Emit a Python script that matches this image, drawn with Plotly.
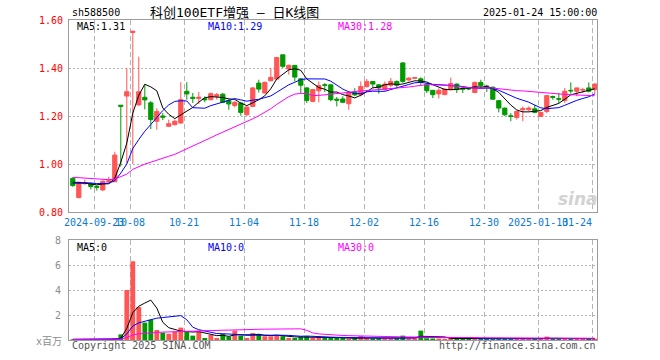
import plotly.graph_objects as go

# ---------------- data ----------------
dates = [
    "2024-09-13", "2024-09-18", "2024-09-19", "2024-09-20", "2024-09-23", "2024-09-24",
    "2024-09-25", "2024-09-26", "2024-09-27", "2024-09-30", "2024-10-08", "2024-10-09",
    "2024-10-10", "2024-10-11", "2024-10-14", "2024-10-15", "2024-10-16", "2024-10-17",
    "2024-10-18", "2024-10-21", "2024-10-22", "2024-10-23", "2024-10-24", "2024-10-25",
    "2024-10-28", "2024-10-29", "2024-10-30", "2024-10-31", "2024-11-01", "2024-11-04",
    "2024-11-05", "2024-11-06", "2024-11-07", "2024-11-08", "2024-11-11", "2024-11-12",
    "2024-11-13", "2024-11-14", "2024-11-15", "2024-11-18", "2024-11-19", "2024-11-20",
    "2024-11-21", "2024-11-22", "2024-11-25", "2024-11-26", "2024-11-27", "2024-11-28",
    "2024-11-29", "2024-12-02", "2024-12-03", "2024-12-04", "2024-12-05", "2024-12-06",
    "2024-12-09", "2024-12-10", "2024-12-11", "2024-12-12", "2024-12-13", "2024-12-16",
    "2024-12-17", "2024-12-18", "2024-12-19", "2024-12-20", "2024-12-23", "2024-12-24",
    "2024-12-25", "2024-12-26", "2024-12-27", "2024-12-30", "2024-12-31", "2025-01-02",
    "2025-01-03", "2025-01-06", "2025-01-07", "2025-01-08", "2025-01-09", "2025-01-10",
    "2025-01-13", "2025-01-14", "2025-01-15", "2025-01-16", "2025-01-17", "2025-01-20",
    "2025-01-21", "2025-01-22", "2025-01-23", "2025-01-24",
]

opens = [
    0.940, 0.860, 0.918, 0.919, 0.907, 0.892, 0.925, 0.926, 1.245, 1.283,
    1.548, 1.246, 1.278, 1.255, 1.178, 1.200, 1.157, 1.164, 1.171, 1.303,
    1.278, 1.273, 1.272, 1.268, 1.282, 1.291, 1.264, 1.244, 1.254, 1.205,
    1.240, 1.337, 1.296, 1.347, 1.354, 1.455, 1.396, 1.411, 1.355, 1.317,
    1.261, 1.305, 1.330, 1.330, 1.270, 1.271, 1.251, 1.300, 1.289, 1.323,
    1.344, 1.330, 1.310, 1.328, 1.344, 1.421, 1.350, 1.357, 1.355, 1.330,
    1.307, 1.292, 1.289, 1.310, 1.333, 1.316, 1.316, 1.298, 1.340, 1.325,
    1.320, 1.264, 1.233, 1.201, 1.194, 1.226, 1.226, 1.230, 1.198, 1.219,
    1.281, 1.272, 1.265, 1.307, 1.303, 1.308, 1.317, 1.310,
]
highs = [
    0.945, 0.926, 0.935, 0.922, 0.910, 0.932, 0.947, 1.051, 1.246, 1.399,
    1.556, 1.447, 1.329, 1.262, 1.232, 1.212, 1.185, 1.185, 1.341, 1.341,
    1.296, 1.300, 1.282, 1.298, 1.296, 1.296, 1.270, 1.262, 1.258, 1.240,
    1.320, 1.351, 1.344, 1.400, 1.444, 1.455, 1.414, 1.411, 1.358, 1.320,
    1.313, 1.344, 1.337, 1.331, 1.279, 1.282, 1.303, 1.316, 1.344, 1.354,
    1.345, 1.333, 1.344, 1.358, 1.348, 1.425, 1.361, 1.362, 1.361, 1.337,
    1.308, 1.316, 1.314, 1.360, 1.336, 1.322, 1.320, 1.343, 1.351, 1.330,
    1.322, 1.266, 1.235, 1.212, 1.222, 1.240, 1.240, 1.247, 1.217, 1.285,
    1.285, 1.296, 1.317, 1.340, 1.318, 1.317, 1.340, 1.337,
]
lows = [
    0.905, 0.857, 0.914, 0.894, 0.889, 0.887, 0.922, 0.925, 0.989, 1.003,
    1.000, 1.244, 1.228, 1.145, 1.143, 1.183, 1.154, 1.160, 1.167, 1.268,
    1.254, 1.250, 1.257, 1.265, 1.268, 1.254, 1.226, 1.236, 1.201, 1.201,
    1.237, 1.298, 1.293, 1.344, 1.351, 1.400, 1.372, 1.344, 1.296, 1.254,
    1.257, 1.257, 1.300, 1.261, 1.240, 1.254, 1.226, 1.283, 1.282, 1.318,
    1.317, 1.293, 1.305, 1.320, 1.318, 1.338, 1.344, 1.354, 1.330, 1.296,
    1.275, 1.273, 1.288, 1.308, 1.296, 1.296, 1.308, 1.295, 1.318, 1.300,
    1.268, 1.215, 1.201, 1.178, 1.185, 1.178, 1.219, 1.212, 1.196, 1.212,
    1.268, 1.254, 1.254, 1.293, 1.282, 1.296, 1.298, 1.293,
]
closes = [
    0.910, 0.924, 0.922, 0.906, 0.903, 0.928, 0.930, 1.037, 1.240, 1.301,
    1.553, 1.301, 1.267, 1.185, 1.219, 1.195, 1.168, 1.178, 1.268, 1.292,
    1.273, 1.278, 1.268, 1.293, 1.289, 1.257, 1.250, 1.257, 1.215, 1.237,
    1.317, 1.312, 1.340, 1.361, 1.444, 1.407, 1.411, 1.362, 1.328, 1.265,
    1.310, 1.327, 1.328, 1.268, 1.266, 1.257, 1.298, 1.288, 1.323, 1.344,
    1.333, 1.317, 1.333, 1.344, 1.328, 1.344, 1.358, 1.360, 1.340, 1.305,
    1.289, 1.307, 1.312, 1.335, 1.310, 1.312, 1.313, 1.340, 1.326, 1.322,
    1.270, 1.233, 1.205, 1.198, 1.219, 1.231, 1.233, 1.215, 1.215, 1.285,
    1.278, 1.270, 1.303, 1.305, 1.317, 1.310, 1.303, 1.333,
]
# volume, in millions
volumes = [
    0.05, 0.08, 0.03, 0.04, 0.03, 0.06, 0.05, 0.12, 0.45, 4.00,
    6.30, 2.64, 1.39, 1.63, 0.80, 0.59, 0.50, 0.67, 0.99, 0.67,
    0.35, 0.67, 0.16, 0.40, 0.16, 0.48, 0.27, 0.75, 0.35, 0.16,
    0.56, 0.48, 0.30, 0.30, 0.32, 0.30, 0.16, 0.16, 0.27, 0.30,
    0.20, 0.27, 0.16, 0.16, 0.16, 0.16, 0.10, 0.16, 0.32, 0.14,
    0.12, 0.14, 0.12, 0.12, 0.14, 0.35, 0.12, 0.14, 0.75, 0.14,
    0.12, 0.12, 0.10, 0.14, 0.12, 0.10, 0.10, 0.12, 0.12, 0.10,
    0.12, 0.14, 0.12, 0.12, 0.10, 0.12, 0.10, 0.10, 0.10, 0.27,
    0.12, 0.10, 0.12, 0.12, 0.10, 0.08, 0.10, 0.10,
]
# sessions before the visible window (implied by where the MA lines start)
prior_closes = [
    0.975, 0.972, 0.968, 0.970, 0.965, 0.962, 0.966, 0.960, 0.958, 0.955,
    0.957, 0.952, 0.950, 0.948, 0.946, 0.944, 0.940, 0.938, 0.935, 0.936,
    0.930, 0.928, 0.926, 0.929, 0.925, 0.922, 0.926, 0.924, 0.921,
]
prior_volumes = [
    0.06, 0.05, 0.07, 0.04, 0.05, 0.06, 0.05, 0.04, 0.06, 0.05,
    0.04, 0.05, 0.06, 0.05, 0.04, 0.05, 0.07, 0.05, 0.04, 0.05,
    0.06, 0.05, 0.04, 0.05, 0.06, 0.05, 0.04, 0.05, 0.05,
]

tick_dates = ["2024-09-23", "2024-10-08", "2024-10-21", "2024-11-04", "2024-11-18",
              "2024-12-02", "2024-12-16", "2024-12-30", "2025-01-13", "2025-01-24"]
tick_labels = ["2024-09-23", "10-08", "10-21", "11-04", "11-18",
               "12-02", "12-16", "12-30", "2025-01-13", "01-24"]
price_ticks = [0.80, 1.00, 1.20, 1.40, 1.60]
price_tick_labels = ["0.80", "1.00", "1.20", "1.40", "1.60"]
volume_ticks = [2, 4, 6, 8]
volume_tick_labels = ["2", "4", "6", "8"]

ma_price_text = ["MA5:1.31", "MA10:1.29", "MA30:1.28"]
ma_volume_text = ["MA5:0", "MA10:0", "MA30:0"]

# ---------------- helpers ----------------
def moving_average(prior, values, n):
    full = list(prior) + list(values)
    off = len(prior)
    out = []
    for i in range(len(values)):
        j = off + i
        w = full[max(0, j - n + 1): j + 1]
        out.append(sum(w) / len(w))
    return out

RED = "#ff5555"
GREEN = "#009a00"
MA_COLORS = ["#000000", "#0000ff", "#ff00ff"]
GRID = "#b4b4b4"
BORDER = "#9c9c9c"
MONO = "DejaVu Sans Mono, Noto Sans CJK SC, monospace"
TEXT_GRAY = "#555555"

xs = list(range(len(dates)))
pos = {d: i for i, d in enumerate(dates)}
grid_x = [pos[d] - 0.417 for d in tick_dates]

# plot-area in pixels: x 69..597, y 20..340
L, R, T, B = 69, 597, 20, 340
def px_x(px):
    return (px - L) / (R - L)
def px_y(py):
    return (B - py) / (B - T)

x_range = [-0.633, len(dates) - 0.633]

fig = go.Figure()

fig.add_trace(go.Candlestick(
    x=xs, open=opens, high=highs, low=lows, close=closes,
    increasing=dict(line=dict(color=RED, width=1), fillcolor=RED),
    decreasing=dict(line=dict(color=GREEN, width=1), fillcolor=GREEN),
    whiskerwidth=0, xaxis="x", yaxis="y", hoverinfo="skip",
))

for n, col in zip([5, 10, 30], MA_COLORS):
    fig.add_trace(go.Scatter(
        x=xs, y=moving_average(prior_closes, closes, n), mode="lines",
        line=dict(color=col, width=1), xaxis="x", yaxis="y", hoverinfo="skip",
    ))

vol_colors = [RED if c >= o else GREEN for o, c in zip(opens, closes)]
fig.add_trace(go.Bar(
    x=xs, y=volumes, width=0.8, marker=dict(color=vol_colors, line=dict(width=0)),
    xaxis="x2", yaxis="y2", hoverinfo="skip",
))
for n, col in zip([5, 10, 30], MA_COLORS):
    fig.add_trace(go.Scatter(
        x=xs, y=moving_average(prior_volumes, volumes, n), mode="lines",
        line=dict(color=col, width=1), xaxis="x2", yaxis="y2", hoverinfo="skip",
    ))

xaxis_common = dict(
    range=x_range, tickmode="array", tickvals=grid_x, showticklabels=False, ticks="",
    showgrid=True, gridcolor=GRID, gridwidth=1, griddash="5px,3px",
    showline=True, mirror=True, linecolor=BORDER, linewidth=1,
    zeroline=False, fixedrange=True,
)

fig.update_layout(
    width=660, height=360,
    margin=dict(l=L, r=660 - R, t=T, b=360 - B, pad=0),
    paper_bgcolor="white", plot_bgcolor="white",
    showlegend=False, hovermode=False,
    boxgap=0.3, boxgroupgap=0,
    xaxis=dict(domain=[0, 1], anchor="y", rangeslider=dict(visible=False), **xaxis_common),
    xaxis2=dict(domain=[0, 1], anchor="y2", **xaxis_common),
    yaxis=dict(
        domain=[px_y(212), 1], anchor="x", range=[0.80, 1.60],
        tickmode="array", tickvals=price_ticks, ticktext=price_tick_labels,
        tickfont=dict(family=MONO, size=10, color="#ff0000"), ticks="",
        ticklabelstandoff=3,
        showgrid=True, gridcolor=GRID, gridwidth=1, griddash="2px,2px",
        showline=True, mirror=True, linecolor=BORDER, linewidth=1,
        zeroline=False, fixedrange=True,
    ),
    yaxis2=dict(
        domain=[0, px_y(240)], anchor="x2", range=[0, 8],
        tickmode="array", tickvals=volume_ticks, ticktext=volume_tick_labels,
        tickfont=dict(family=MONO, size=10, color="#8c8c8c"), ticks="",
        ticklabelstandoff=5,
        showgrid=True, gridcolor=GRID, gridwidth=1, griddash="2px,2px",
        showline=True, mirror=True, linecolor=BORDER, linewidth=1,
        zeroline=False, fixedrange=True,
    ),
    font=dict(family=MONO, size=10, color="#000000"),
)

ann = []
def text(x, y, s, color="#000000", size=10, xanchor="left", xref="paper", **kw):
    ann.append(dict(x=x, y=y, xref=xref, yref="paper", text=s, showarrow=False,
                    xanchor=xanchor, yanchor="middle",
                    font=dict(family=MONO, size=size, color=color, **kw)))

# header
text(px_x(69.5), px_y(12.5), "sh588500")
text(px_x(234), px_y(12.5), "科创100ETF增强 — 日K线图", size=13, xanchor="center")
text(px_x(598.5), px_y(12.5), "2025-01-24 15:00:00", xanchor="right")

# MA legends
for s, col, xp in zip(ma_price_text, MA_COLORS, [74.5, 205.5, 336]):
    text(px_x(xp), px_y(27), s, color=col)
for s, col, xp in zip(ma_volume_text, MA_COLORS, [74.5, 205.5, 336]):
    text(px_x(xp), px_y(247), s, color=col)

# date labels
DATE_BLUE = "#0a7ad0"
for gx, lab in zip(grid_x[:-1], tick_labels[:-1]):
    text(gx, px_y(222), lab, color=DATE_BLUE, xanchor="center", xref="x")
text(px_x(594), px_y(222), tick_labels[-1], color=DATE_BLUE, xanchor="right")

# footer
text(px_x(64), px_y(341), "x百万", color="#8c8c8c", xanchor="right")
text(px_x(70), px_y(345.5), "Copyright 2025 SINA.COM", color=TEXT_GRAY)
text(px_x(597.5), px_y(345.5), "http://finance.sina.com.cn", color=TEXT_GRAY, xanchor="right")

# watermark
ann.append(dict(x=px_x(578), y=px_y(199), xref="paper", yref="paper", text="sina",
                showarrow=False, xanchor="center", yanchor="middle",
                font=dict(family="DejaVu Sans", size=17, color="#d2d2d2",
                          weight="bold", style="italic")))

fig.update_layout(annotations=ann)

fig.write_html(
    "out.html",
    config={"displayModeBar": False, "staticPlot": True},
    post_script="document.body.style.margin='0';document.body.style.padding='0';",
)
